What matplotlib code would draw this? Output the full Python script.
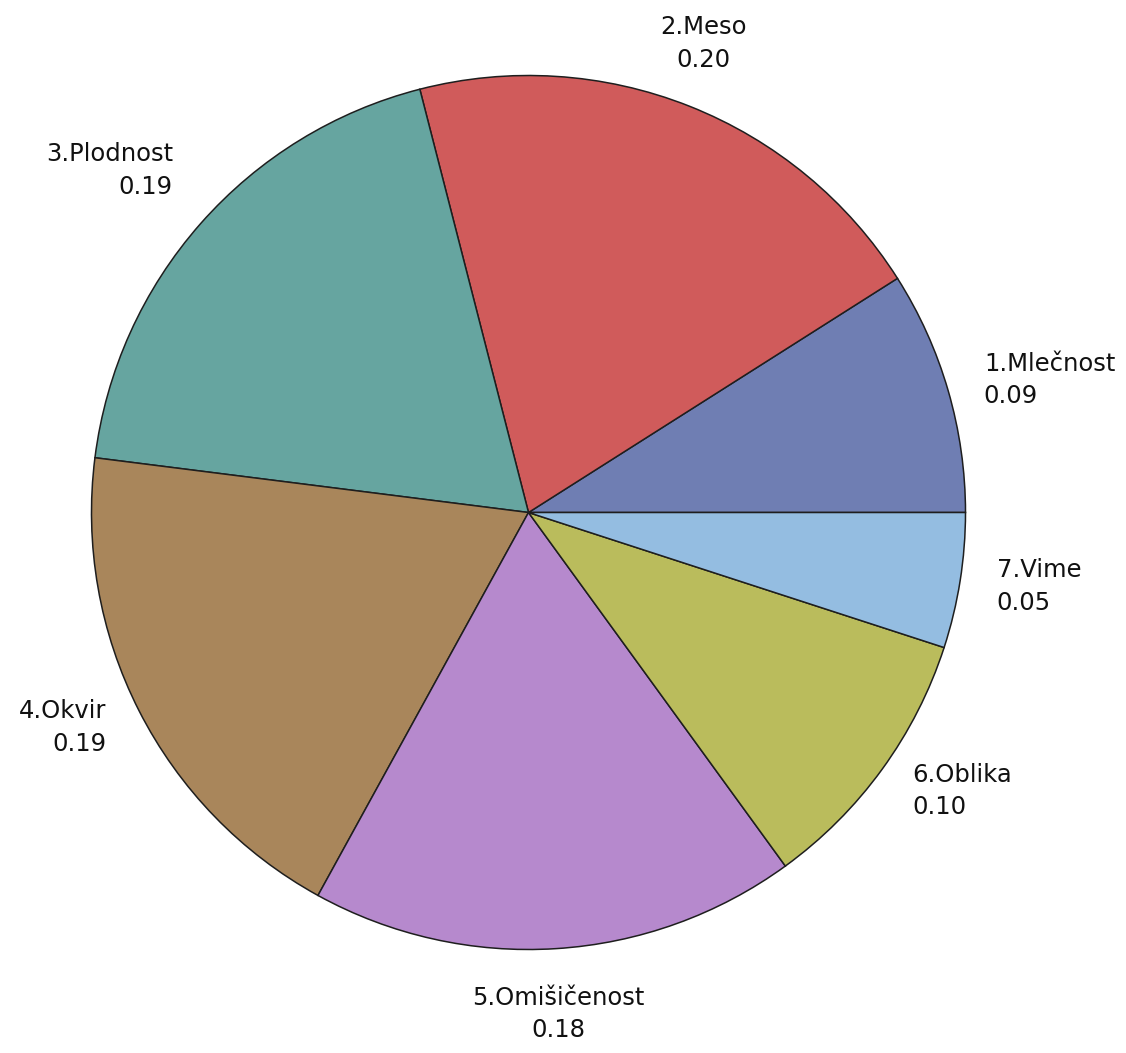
import numpy as np
import matplotlib
matplotlib.use("Agg")
import matplotlib.pyplot as plt

# pie data (shares per trait)
names = ["1.Mlečnost", "2.Meso", "3.Plodnost", "4.Okvir",
         "5.Omišičenost", "6.Oblika", "7.Vime"]
shares = [0.09, 0.20, 0.19, 0.19, 0.18, 0.10, 0.05]
colors = ["#6F7EB3", "#D05B5B", "#66A5A0", "#A9865B",
          "#B689CD", "#BABC5C", "#94BDE1"]

W, H = 1126, 1053
fig = plt.figure(figsize=(W / 100, H / 100), dpi=100)
ax = fig.add_axes([0, 0, 1, 1])

cx, cy, R = 528.5, H - 512.5, 437

wedges, _ = ax.pie(shares, colors=colors, startangle=0, counterclock=True,
                   center=(cx, cy), radius=R, frame=True,
                   wedgeprops=dict(edgecolor="#1e1e1e", linewidth=1.1))
ax.set_xlim(0, W)
ax.set_ylim(0, H)
ax.set_aspect("equal")
ax.axis("off")

# labels at the middle angle of each slice
k = 1.085
for w, name, val in zip(wedges, names, shares):
    mid = np.deg2rad((w.theta1 + w.theta2) / 2)
    c, s = np.cos(mid), np.sin(mid)
    x = cx + R * k * c
    y = cy + R * k * s
    if abs(c) < 0.4:
        ha = "center"
    else:
        ha = "left" if c > 0 else "right"
    if s > 0.6:
        va = "bottom"
    elif s < -0.9:
        va = "top"
    else:
        va = "center"
    ax.text(x, y, "%s\n%.2f" % (name, val), ha=ha, va=va, multialignment=ha,
            fontsize=17.5, color="#111111", linespacing=1.45,
            family="DejaVu Sans")

fig.savefig("out.png", dpi=100, facecolor="white")
